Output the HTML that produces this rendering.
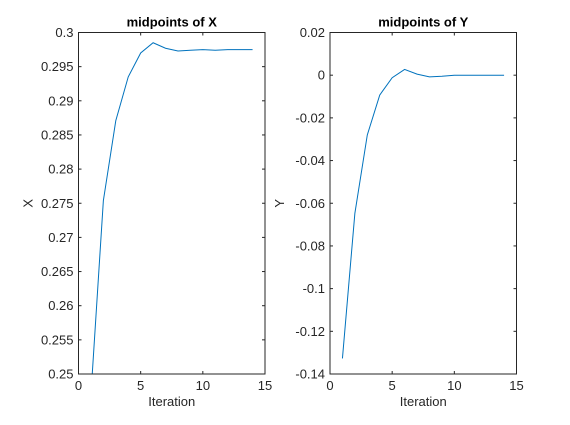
<!DOCTYPE html>
<html><head><meta charset="utf-8"><style>
body{margin:0;background:#fff;width:570px;height:420px;overflow:hidden}
svg text{font-family:"Liberation Sans","DejaVu Sans",sans-serif;fill:#262626}
</style></head><body>
<svg id="fig" width="570" height="420" xmlns="http://www.w3.org/2000/svg"></svg>
<script>
const iterations=[1,2,3,4,5,6,7,8,9,10,11,12,13,14];
const xMid=[0.247,0.2754,0.2871,0.2935,0.2970,0.2985,0.2977,0.2973,0.2974,0.2975,0.2974,0.2975,0.2975,0.2975];
const yMid=[-0.1327,-0.0647,-0.028,-0.0093,-0.0012,0.0027,0.0005,-0.0008,-0.0005,0,0,0,0,0];
const xTicks=[0,5,10,15];
const leftTicks=[0.25,0.255,0.26,0.265,0.27,0.275,0.28,0.285,0.29,0.295,0.3];
const leftLabels=["0.25","0.255","0.26","0.265","0.27","0.275","0.28","0.285","0.29","0.295","0.3"];
const rightTicks=[-0.14,-0.12,-0.1,-0.08,-0.06,-0.04,-0.02,0,0.02];
const rightLabels=["-0.14","-0.12","-0.1","-0.08","-0.06","-0.04","-0.02","0","0.02"];
const NS="http://www.w3.org/2000/svg";
const svg=document.getElementById('fig');
function mk(t,a,p){const e=document.createElementNS(NS,t);for(const k in a)e.setAttribute(k,a[k]);(p||svg).appendChild(e);return e;}
function panel(name,L,R,T,B,ymin,ymax,yt,yl,data,title,ylab){
  const g=mk('g',{});
  
  
  const sx=v=>L+(v-0)/(15-0)*(R-L);
  const sy=v=>B-(v-ymin)/(ymax-ymin)*(B-T);
  const cid='clip-'+name;
  const cp=mk('clipPath',{id:cid},g);mk('rect',{x:L,y:T,width:R-L,height:B-T},cp);
  const d=data.map((v,i)=>(i?'L':'M')+sx(iterations[i]).toFixed(2)+','+sy(v).toFixed(2)).join('');
  const line=mk('path',{d:d,fill:'none',stroke:'#0072bd','stroke-width':1,'clip-path':'url(#'+cid+')'},g);
  
  
  mk('rect',{x:L,y:T,width:R-L,height:B-T,fill:'none',stroke:'#262626','stroke-width':1},g);
  xTicks.forEach(v=>{const x=sx(v);
    mk('line',{x1:x,x2:x,y1:B,y2:B-3,stroke:'#262626'},g);mk('line',{x1:x,x2:x,y1:T,y2:T+3,stroke:'#262626'},g);
    const t=mk('text',{x:x,y:B+16,'text-anchor':'middle','font-size':13},g);t.textContent=v;
    
    });
  yt.forEach((v,i)=>{const y=sy(v);
    mk('line',{x1:L,x2:L+3,y1:y,y2:y,stroke:'#262626'},g);mk('line',{x1:R,x2:R-3,y1:y,y2:y,stroke:'#262626'},g);
    const t=mk('text',{x:L-5,y:y+4.5,'text-anchor':'end','font-size':13},g);t.textContent=yl[i];
    
    });
  const tt=mk('text',{x:(L+R)/2,y:T-6,'text-anchor':'middle','font-size':13,'font-weight':'bold',style:'fill:#000'},g);tt.textContent=title;
  
  
  const xl=mk('text',{x:(L+R)/2,y:B+32,'text-anchor':'middle','font-size':13},g);xl.textContent='Iteration';
  
  
  const yx=L-46, yy=(T+B)/2;
  const ylt=mk('text',{x:yx,y:yy,'text-anchor':'middle','font-size':13,transform:'rotate(-90 '+yx+' '+yy+')'},g);ylt.textContent=ylab;
  
  
}
panel('panel-x',78.5,265,32.5,374,0.25,0.3,leftTicks,leftLabels,xMid,'midpoints of X','X');
panel('panel-y',330,516.5,32.5,374,-0.14,0.02,rightTicks,rightLabels,yMid,'midpoints of Y','Y');
</script>
</body></html>
